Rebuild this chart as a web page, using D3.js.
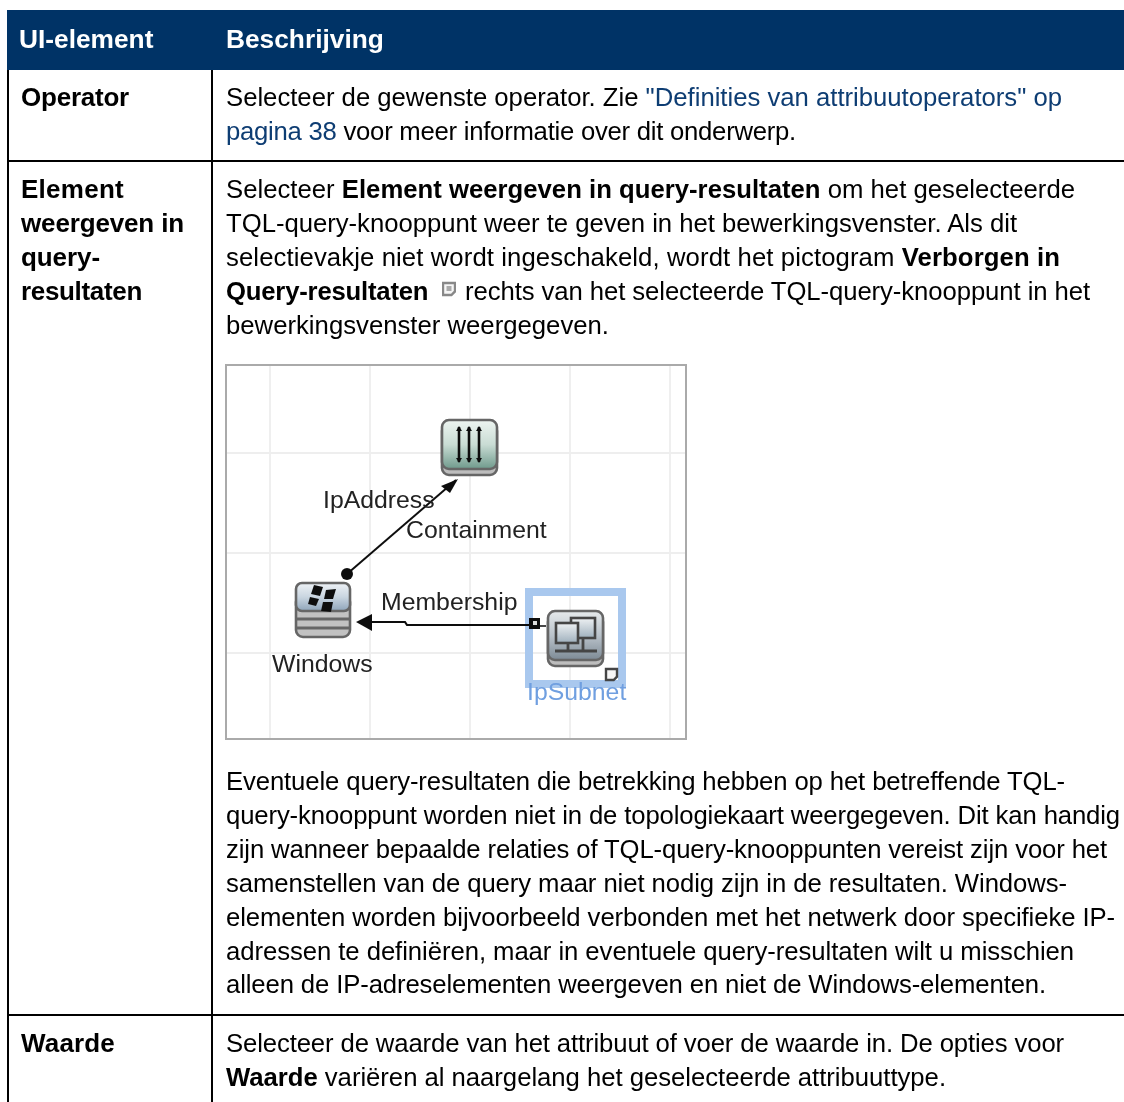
<!DOCTYPE html>
<html>
<head>
<meta charset="utf-8">
<script src="https://cdn.jsdelivr.net/npm/d3@7"></script>
<style>
  html, body { margin: 0; padding: 0; background: #fff; }
  svg { display: block; }
  text { font-family: "Liberation Sans", Arial, sans-serif; }
</style>
</head>
<body>
<div id="wrapper"></div>
<script>
const width = 1124;
const height = 1102;

// table text
const headers = ["UI-element", "Beschrijving"];
const rowNames = [
  ["Operator"],
  ["Element", "weergeven in", "query-", "resultaten"],
  ["Waarde"]
];
// each line is a list of runs: [text, style] with n normal, b bold, l link, i after inline icon
const operatorLines = [
  [["Selecteer de gewenste operator. Zie ", "n"], ["\"Definities van attribuutoperators\" op", "l"]],
  [["pagina 38", "l"], [" voor meer informatie over dit onderwerp.", "n"]]
];
const elementLines = [
  [["Selecteer ", "n"], ["Element weergeven in query-resultaten", "b"], [" om het geselecteerde", "n"]],
  [["TQL-query-knooppunt weer te geven in het bewerkingsvenster. Als dit", "n"]],
  [["selectievakje niet wordt ingeschakeld, wordt het pictogram ", "n"], ["Verborgen in", "b"]],
  [["Query-resultaten", "b"], ["rechts van het selecteerde TQL-query-knooppunt in het", "i"]],
  [["bewerkingsvenster weergegeven.", "n"]]
];
const elementLines2 = [
  "Eventuele query-resultaten die betrekking hebben op het betreffende TQL-",
  "query-knooppunt worden niet in de topologiekaart weergegeven. Dit kan handig",
  "zijn wanneer bepaalde relaties of TQL-query-knooppunten vereist zijn voor het",
  "samenstellen van de query maar niet nodig zijn in de resultaten. Windows-",
  "elementen worden bijvoorbeeld verbonden met het netwerk door specifieke IP-",
  "adressen te definiëren, maar in eventuele query-resultaten wilt u misschien",
  "alleen de IP-adreselementen weergeven en niet de Windows-elementen."
];
const waardeLines = [
  [["Selecteer de waarde van het attribuut of voer de waarde in. De opties voor", "n"]],
  [["Waarde", "b"], [" variëren al naargelang het geselecteerde attribuuttype.", "n"]]
];

// diagram labels and grid
const diagramLabels = ["IpAddress", "Containment", "Membership", "Windows", "IpSubnet"];
const gridXValues = [1, 2, 3, 4, 5];
const gridYValues = [1, 2, 3];

// right end of each text line, lines get fitted to these
const operatorEnds = [1062, 796];
const elementEnds = [1075, 1017, 1060, 1090, 609];
const elementEnds2 = [1065, 1120, 1107, 1067, 1115, 1074, 1046];
const waardeEnds = [1064, 946];
const rowNameEnds = [[129], [124, 184, 100, 142], [115]];

const svg = d3.select("#wrapper").append("svg")
  .attr("width", width)
  .attr("height", height);

const defs = svg.append("defs");
function blur(id, amount) {
  defs.append("filter").attr("id", id)
    .attr("x", "-5%").attr("y", "-20%").attr("width", "110%").attr("height", "140%")
    .append("feGaussianBlur").attr("stdDeviation", amount);
}
blur("soft", 0.55);
blur("softText", 0.35);

function gradient(id, stops) {
  const g = defs.append("linearGradient").attr("id", id)
    .attr("x1", 0).attr("y1", 0).attr("x2", 0).attr("y2", 1);
  stops.forEach((c, i) => g.append("stop")
    .attr("offset", i / (stops.length - 1)).attr("stop-color", c));
}
gradient("gGreen", ["#eef5f1", "#c9dcd4", "#6f9a8c"]);
gradient("gBlue", ["#eef2f6", "#c9d5e0", "#8fa5ba"]);
gradient("gGrey", ["#e6eaec", "#b9c2ca", "#7d8a95"]);
gradient("gPc", ["#eef1f3", "#9fb0bd"]);

// table background and lines
const navy = "#003366";
svg.append("rect").attr("x", 7).attr("y", 10).attr("width", width - 7).attr("height", 60).attr("fill", navy);

const tableLines = [
  [8, 70, 8, height], [212, 70, 212, height],
  [7, 161, width, 161], [7, 1015, width, 1015]
];
svg.selectAll("line.rule").data(tableLines).enter().append("line")
  .attr("class", "rule")
  .attr("x1", d => d[0]).attr("y1", d => d[1])
  .attr("x2", d => d[2]).attr("y2", d => d[3])
  .attr("stroke", "#000").attr("stroke-width", 2);

const textLayer = svg.append("g").attr("filter", "url(#softText)");

// header text
textLayer.selectAll("text.head").data(headers).enter().append("text")
  .attr("class", "head")
  .attr("x", (d, i) => i == 0 ? 19 : 226)
  .attr("y", 48)
  .attr("fill", "#fff")
  .attr("font-weight", "bold")
  .attr("font-size", 26.3)
  .text(d => d);

// stretch or squeeze one text element so it stops where the reference stops
function fit(node, startX, endX) {
  const len = node.getComputedTextLength();
  const chars = node.textContent.length;
  d3.select(node).style("letter-spacing", ((endX - startX - len) / chars) + "px");
}

// row names in first column
const rowTop = [106, 198, 1052];
rowNames.forEach((names, r) => {
  names.forEach((n, i) => {
    const t = textLayer.append("text").attr("x", 21).attr("y", rowTop[r] + i * 34)
      .attr("font-weight", "bold").attr("font-size", 26).attr("fill", "#000").text(n);
    fit(t.node(), 21, rowNameEnds[r][i]);
  });
});

// body text in second column
const iconTextX = 465;
function drawLines(lines, top, ends, step) {
  lines.forEach((runs, i) => {
    const t = textLayer.append("text").attr("x", 226).attr("y", top + i * step)
      .attr("font-size", 25.7).style("white-space", "pre");
    runs.forEach(run => {
      const s = t.append("tspan")
        .attr("fill", run[1] == "l" ? "#0f3d73" : "#000")
        .attr("font-weight", run[1] == "b" ? "bold" : "normal")
        .text(run[0]);
      if (run[1] == "i") s.attr("x", iconTextX);
    });
    const last = runs[runs.length - 1];
    if (last[1] == "i") {
      // only the part behind the icon has to fit
      fit(t.select("tspan:last-child").node(), iconTextX, ends[i]);
      t.select("tspan").style("letter-spacing", "-0.2px");
    } else {
      fit(t.node(), 226, ends[i]);
    }
  });
}
drawLines(operatorLines, 106, operatorEnds, 34);
drawLines(elementLines, 198, elementEnds, 34);
drawLines(elementLines2.map(s => [[s, "n"]]), 790, elementEnds2, 33.9);
drawLines(waardeLines, 1052, waardeEnds, 34);

// little "hidden" icon drawn at a given place
function noteIcon(g, x, y, s, edge) {
  g.append("path")
    .attr("d", `M${x} ${y}h${s}v${s * 0.7}l${-s * 0.3} ${s * 0.3}h${-s * 0.7}z`)
    .attr("fill", "#f6f6f6").attr("stroke", edge).attr("stroke-width", 2.4);
}
const inlineIcon = svg.append("g").attr("filter", "url(#soft)");
noteIcon(inlineIcon, 443, 283, 12, "#888");
inlineIcon.append("rect").attr("x", 446.5).attr("y", 286).attr("width", 5).attr("height", 5).attr("fill", "#aaa");

// topology diagram
const dia = svg.append("g").attr("filter", "url(#soft)");
const xGrid = d3.scaleLinear().domain([1, 5]).range([270, 670]);
const yGrid = d3.scaleLinear().domain([1, 3]).range([453, 653]);
dia.append("rect").attr("x", 226).attr("y", 365).attr("width", 460).attr("height", 374)
  .attr("fill", "#fff").attr("stroke", "#aaaaaa").attr("stroke-width", 2);
dia.selectAll("line.gx").data(gridXValues).enter().append("line").attr("class", "gx")
  .attr("x1", d => xGrid(d)).attr("x2", d => xGrid(d)).attr("y1", 366).attr("y2", 738)
  .attr("stroke", "#eeeeee").attr("stroke-width", 1.8);
dia.selectAll("line.gy").data(gridYValues).enter().append("line").attr("class", "gy")
  .attr("y1", d => yGrid(d)).attr("y2", d => yGrid(d)).attr("x1", 227).attr("x2", 685)
  .attr("stroke", "#eeeeee").attr("stroke-width", 1.8);

// selection box around IpSubnet
dia.append("rect").attr("x", 529).attr("y", 592).attr("width", 93).attr("height", 92)
  .attr("fill", "none").attr("stroke", "#a9c8ee").attr("stroke-width", 8);

// connectors
dia.append("path").attr("d", "M347 574L456 480").attr("stroke", "#111").attr("stroke-width", 2).attr("fill", "none");
dia.append("circle").attr("cx", 347).attr("cy", 574).attr("r", 6).attr("fill", "#111");
dia.append("path").attr("d", "M458 479L441 486L450 493z").attr("fill", "#111");
dia.append("path").attr("d", "M372 622H405L407 625H530").attr("stroke", "#111").attr("stroke-width", 2.2).attr("fill", "none");
dia.append("path").attr("d", "M356 622L372 614V631z").attr("fill", "#111");
dia.append("rect").attr("x", 529).attr("y", 618).attr("width", 11).attr("height", 11).attr("fill", "#111");
dia.append("rect").attr("x", 533).attr("y", 621).attr("width", 4).attr("height", 4).attr("fill", "#ddd");
dia.append("line").attr("x1", 540).attr("x2", 546).attr("y1", 626).attr("y2", 626).attr("stroke", "#333").attr("stroke-width", 1.8);

// icon base plate shared by the tiles
function tile(x, y, fill) {
  dia.append("rect").attr("x", x).attr("y", y + 4).attr("width", 55).attr("height", 51).attr("rx", 7)
    .attr("fill", "#bdbdbd").attr("stroke", "#666").attr("stroke-width", 2.6);
  dia.append("rect").attr("x", x).attr("y", y).attr("width", 55).attr("height", 49).attr("rx", 7)
    .attr("fill", fill).attr("stroke", "#666").attr("stroke-width", 2.6);
}

// IpAddress node
tile(442, 420, "url(#gGreen)");
[459, 469, 479].forEach(x => {
  dia.append("line").attr("x1", x).attr("x2", x).attr("y1", 427).attr("y2", 462).attr("stroke", "#111").attr("stroke-width", 2.6);
  dia.append("path").attr("d", `M${x - 3} 431L${x} 426L${x + 3} 431z`).attr("fill", "#111");
  dia.append("path").attr("d", `M${x - 3} 458L${x} 463L${x + 3} 458z`).attr("fill", "#111");
});

// Windows node, stacked disks
dia.append("rect").attr("x", 296).attr("y", 595).attr("width", 54).attr("height", 42).attr("rx", 7)
  .attr("fill", "#c2c2c2").attr("stroke", "#666").attr("stroke-width", 2.6);
[619, 628].forEach(y => {
  dia.append("line").attr("x1", 296).attr("x2", 350).attr("y1", y).attr("y2", y).attr("stroke", "#666").attr("stroke-width", 3);
});
dia.append("rect").attr("x", 296).attr("y", 583).attr("width", 54).attr("height", 28).attr("rx", 6)
  .attr("fill", "url(#gBlue)").attr("stroke", "#666").attr("stroke-width", 2.6);
["M314 585L323 587L320 596L311 594z", "M326 590L336 589L333 599L324 599z",
 "M310 597L319 599L316 606L308 604z", "M323 602L333 602L331 612L321 611z"].forEach(p => {
  dia.append("path").attr("d", p).attr("fill", "#111");
});

// IpSubnet node
tile(548, 611, "url(#gGrey)");
[[571, 618, 24, 20], [556, 623, 22, 20]].forEach(p => {
  dia.append("rect").attr("x", p[0]).attr("y", p[1]).attr("width", p[2]).attr("height", p[3])
    .attr("fill", "url(#gPc)").attr("stroke", "#444").attr("stroke-width", 2.6);
});
dia.append("path").attr("d", "M568 644V650M583 639V650M555 651H597").attr("stroke", "#444").attr("stroke-width", 2.8).attr("fill", "none");
noteIcon(dia, 606, 669, 11, "#444");

// diagram labels
const labelX = d3.scaleOrdinal().domain(diagramLabels).range([323, 406, 381, 272, 527]);
const labelY = d3.scaleOrdinal().domain(diagramLabels).range([508, 538, 610, 672, 700]);
svg.append("g").attr("filter", "url(#softText)")
  .selectAll("text.lab").data(diagramLabels).enter().append("text")
  .attr("class", "lab")
  .attr("x", d => labelX(d)).attr("y", d => labelY(d))
  .attr("font-size", 24.8)
  .attr("fill", d => d == "IpSubnet" ? "#6f9fe0" : "#222")
  .text(d => d);
</script>
</body>
</html>
